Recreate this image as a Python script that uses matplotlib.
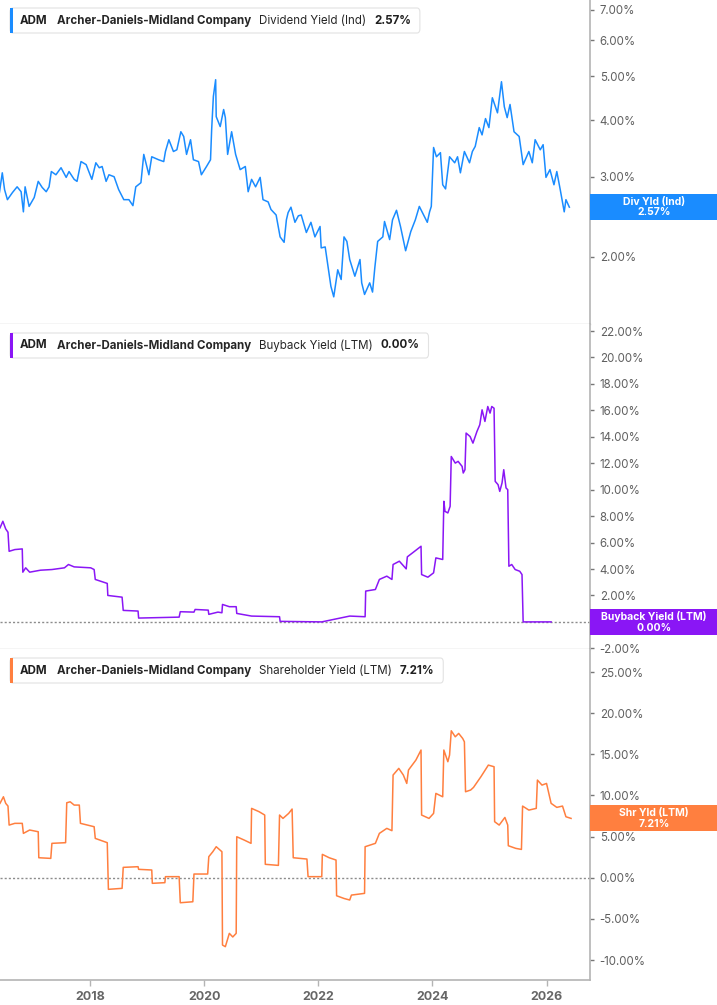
import matplotlib
matplotlib.use("Agg")
import matplotlib.pyplot as plt
from matplotlib.patches import Rectangle, FancyBboxPatch
from matplotlib.ticker import FixedLocator, FuncFormatter, NullLocator

plt.rcParams['font.family'] = ['Inter', 'DejaVu Sans']

# ---- data (decimal years, percent) ----
div_t = [2016.41, 2016.46, 2016.50, 2016.55, 2016.64, 2016.72, 2016.79, 2016.83, 2016.86, 2016.93,
         2017.02, 2017.09, 2017.16, 2017.23, 2017.28, 2017.32, 2017.40, 2017.49, 2017.58, 2017.63,
         2017.72, 2017.77, 2017.84, 2017.93, 2018.03, 2018.10, 2018.16, 2018.21, 2018.28, 2018.33,
         2018.42, 2018.50, 2018.59, 2018.68, 2018.75, 2018.80, 2018.89, 2018.94, 2019.03, 2019.08,
         2019.20, 2019.29, 2019.32, 2019.38, 2019.46, 2019.52, 2019.59, 2019.64, 2019.69, 2019.76,
         2019.81, 2019.90, 2019.95, 2020.04, 2020.11, 2020.13, 2020.16, 2020.20, 2020.21, 2020.28,
         2020.34, 2020.37, 2020.41, 2020.48, 2020.55, 2020.63, 2020.72, 2020.77, 2020.83, 2020.90,
         2020.98, 2021.03, 2021.12, 2021.17, 2021.26, 2021.33, 2021.40, 2021.44, 2021.47, 2021.52,
         2021.59, 2021.65, 2021.70, 2021.79, 2021.87, 2021.94, 2022.03, 2022.05, 2022.12, 2022.17,
         2022.22, 2022.27, 2022.34, 2022.40, 2022.45, 2022.50, 2022.55, 2022.64, 2022.73, 2022.76,
         2022.81, 2022.90, 2022.95, 2022.99, 2023.04, 2023.13, 2023.16, 2023.25, 2023.30, 2023.37,
         2023.44, 2023.53, 2023.62, 2023.70, 2023.77, 2023.86, 2023.91, 2023.95, 2023.98, 2024.02,
         2024.07, 2024.14, 2024.18, 2024.23, 2024.30, 2024.39, 2024.44, 2024.49, 2024.56, 2024.65,
         2024.70, 2024.75, 2024.82, 2024.87, 2024.93, 2024.99, 2025.05, 2025.14, 2025.21, 2025.26,
         2025.31, 2025.36, 2025.43, 2025.52, 2025.59, 2025.69, 2025.75, 2025.80, 2025.89, 2025.94,
         2025.99, 2026.06, 2026.13, 2026.18, 2026.24, 2026.31, 2026.34, 2026.40]
div_v = [2.77, 3.06, 2.81, 2.67, 2.77, 2.85, 2.78, 2.51, 2.85, 2.58,
         2.70, 2.93, 2.84, 2.78, 2.85, 3.08, 3.03, 3.14, 2.99, 3.08,
         2.96, 2.93, 3.24, 3.19, 2.96, 3.22, 3.14, 3.16, 2.93, 3.03,
         3.00, 2.81, 2.67, 2.67, 2.59, 2.85, 2.91, 3.36, 3.03, 3.32,
         3.27, 3.24, 3.41, 3.62, 3.41, 3.44, 3.77, 3.68, 3.36, 3.62,
         3.27, 3.24, 3.03, 3.16, 3.27, 3.81, 4.51, 4.91, 4.07, 3.87,
         4.22, 4.05, 3.36, 3.77, 3.36, 3.11, 3.16, 2.78, 2.96, 2.85,
         2.99, 2.67, 2.64, 2.54, 2.47, 2.21, 2.15, 2.41, 2.50, 2.57,
         2.38, 2.46, 2.47, 2.26, 2.38, 2.21, 2.33, 2.09, 2.10, 1.90,
         1.72, 1.63, 1.87, 1.78, 2.21, 2.16, 1.97, 1.81, 1.97, 1.75,
         1.65, 1.75, 1.67, 1.89, 2.16, 2.21, 2.39, 2.18, 2.41, 2.53,
         2.33, 2.06, 2.27, 2.41, 2.58, 2.45, 2.38, 2.51, 2.58, 3.48,
         3.32, 3.39, 2.88, 2.82, 3.32, 3.22, 3.32, 3.06, 3.41, 3.22,
         3.41, 3.50, 3.85, 3.71, 4.03, 3.85, 4.48, 4.15, 4.86, 4.28,
         4.05, 4.33, 3.77, 3.68, 3.19, 3.41, 3.22, 3.62, 3.44, 3.53,
         2.99, 3.11, 2.88, 3.08, 2.81, 2.51, 2.67, 2.57]

buy_t = [2016.42, 2016.47, 2016.52, 2016.56, 2016.58, 2016.68, 2016.81, 2016.82, 2016.87, 2016.94,
         2017.13, 2017.33, 2017.55, 2017.62, 2017.72, 2018.01, 2018.07, 2018.09, 2018.30, 2018.31,
         2018.56, 2018.58, 2018.84, 2018.85, 2019.56, 2019.58, 2019.82, 2019.84, 2020.07, 2020.08,
         2020.24, 2020.31, 2020.32, 2020.44, 2020.56, 2020.57, 2020.83, 2021.32, 2021.33, 2022.06,
         2022.55, 2022.82, 2022.83, 2023.00, 2023.07, 2023.20, 2023.29, 2023.31, 2023.42, 2023.54,
         2023.56, 2023.66, 2023.80, 2023.81, 2023.92, 2024.02, 2024.06, 2024.18, 2024.20, 2024.22,
         2024.27, 2024.31, 2024.33, 2024.40, 2024.45, 2024.52, 2024.54, 2024.57, 2024.59, 2024.66,
         2024.71, 2024.78, 2024.83, 2024.87, 2024.92, 2024.97, 2025.01, 2025.04, 2025.08, 2025.10,
         2025.15, 2025.18, 2025.22, 2025.25, 2025.29, 2025.32, 2025.34, 2025.39, 2025.45, 2025.53,
         2025.57, 2025.59, 2026.08]
buy_v = [7.11, 7.61, 7.03, 6.78, 5.34, 5.47, 5.52, 3.76, 4.09, 3.76,
         3.91, 3.96, 4.09, 4.34, 4.16, 4.09, 3.96, 3.21, 2.91, 2.00,
         1.87, 0.87, 0.82, 0.29, 0.36, 0.77, 0.74, 0.94, 0.89, 0.57,
         0.74, 0.69, 1.32, 1.15, 1.15, 0.64, 0.44, 0.39, 0.04, 0.00,
         0.44, 0.39, 2.33, 2.45, 3.21, 3.46, 3.21, 4.34, 4.59, 4.01,
         4.92, 5.25, 5.72, 3.58, 3.38, 3.71, 4.84, 4.72, 9.12, 8.36,
         8.24, 8.74, 12.51, 12.01, 12.14, 11.76, 11.26, 11.51, 14.28, 14.02,
         13.52, 14.40, 14.91, 16.04, 15.16, 16.29, 15.79, 16.29, 16.16, 10.63,
         10.38, 9.87, 10.51, 11.51, 10.13, 10.00, 4.21, 4.34, 3.96, 3.83,
         3.58, 0.00, 0.00]

shr_t = [2016.42, 2016.48, 2016.52, 2016.56, 2016.58, 2016.68, 2016.81, 2016.83, 2016.94, 2017.09,
         2017.10, 2017.31, 2017.33, 2017.57, 2017.59, 2017.65, 2017.72, 2017.81, 2017.83, 2018.07,
         2018.09, 2018.30, 2018.32, 2018.56, 2018.58, 2018.84, 2018.85, 2019.08, 2019.09, 2019.31,
         2019.32, 2019.56, 2019.58, 2019.80, 2019.82, 2020.06, 2020.08, 2020.15, 2020.21, 2020.31,
         2020.32, 2020.37, 2020.44, 2020.50, 2020.56, 2020.57, 2020.70, 2020.82, 2020.83, 2020.96,
         2021.06, 2021.07, 2021.30, 2021.32, 2021.38, 2021.48, 2021.54, 2021.56, 2021.80, 2021.82,
         2022.06, 2022.07, 2022.19, 2022.31, 2022.32, 2022.45, 2022.55, 2022.58, 2022.81, 2022.82,
         2023.00, 2023.07, 2023.20, 2023.29, 2023.31, 2023.41, 2023.49, 2023.55, 2023.58, 2023.71,
         2023.80, 2023.81, 2023.94, 2024.02, 2024.06, 2024.18, 2024.20, 2024.27, 2024.30, 2024.33,
         2024.40, 2024.46, 2024.53, 2024.56, 2024.58, 2024.67, 2024.72, 2024.85, 2024.98, 2025.08,
         2025.09, 2025.17, 2025.27, 2025.32, 2025.33, 2025.46, 2025.56, 2025.58, 2025.69, 2025.82,
         2025.84, 2025.92, 2026.00, 2026.08, 2026.18, 2026.28, 2026.34, 2026.43]
shr_v = [9.04, 9.84, 9.04, 8.71, 6.40, 6.61, 6.61, 5.39, 5.80, 5.59,
         2.43, 2.35, 4.18, 4.26, 9.11, 9.23, 8.83, 8.83, 6.61, 6.20,
         4.78, 4.26, -1.41, -1.29, 1.26, 1.34, 1.02, 0.94, -0.68, -0.60,
         0.13, 0.13, -3.04, -2.92, 0.45, 0.45, 2.56, 3.16, 3.77, 3.16,
         -8.18, -8.38, -6.76, -7.20, -6.76, 4.98, 4.58, 4.18, 8.43, 8.03,
         7.62, 1.63, 1.50, 7.62, 7.21, 7.82, 8.35, 2.43, 2.27, 0.13,
         0.13, 2.84, 2.43, 2.15, -2.19, -2.52, -2.71, -2.11, -1.90, 3.77,
         4.18, 5.39, 6.00, 5.72, 12.48, 13.29, 12.48, 11.46, 13.09, 14.30,
         15.52, 7.62, 7.21, 7.82, 10.25, 9.84, 15.52, 14.10, 14.91, 17.86,
         17.13, 17.54, 16.93, 16.52, 10.45, 10.66, 10.98, 12.28, 13.69, 13.49,
         6.81, 6.40, 7.33, 6.40, 3.89, 3.57, 3.44, 8.71, 8.22, 8.43,
         11.87, 11.26, 11.46, 9.04, 8.55, 8.71, 7.41, 7.21]

div_ticks = [2, 3, 4, 5, 6, 7]
buy_ticks = [-2, 0, 2, 4, 6, 8, 10, 12, 14, 16, 18, 20, 22]
shr_ticks = [-10, -5, 0, 5, 10, 15, 20, 25]
year_ticks = [2018, 2020, 2022, 2024, 2026]

BLUE = '#1a8cff'
PURPLE = '#8a16f5'
ORANGE = '#ff7f3f'

W, H = 717, 1005
fig = plt.figure(figsize=(W / 100, H / 100), dpi=100)
fig.patch.set_facecolor('white')

AX_RIGHT = 590


def make_axes(top, bottom):
    return fig.add_axes([0, 1 - bottom / H, AX_RIGHT / W, (bottom - top) / H])


ax1 = make_axes(0, 324)
ax2 = make_axes(324, 649)
ax3 = make_axes(649, 980)

pct = FuncFormatter(lambda v, p: f"{v:.2f}%")

for ax in (ax1, ax2, ax3):
    ax.set_xlim(2016.42, 2016.42 + AX_RIGHT / 57.05)
    ax.spines['top'].set_visible(False)
    ax.spines['left'].set_visible(False)
    ax.spines['right'].set_color('#b4b4b4')
    ax.spines['right'].set_linewidth(1.2)
    ax.spines['bottom'].set_color('#cfcfcf')
    ax.spines['bottom'].set_linewidth(1.0)
    ax.yaxis.tick_right()
    ax.tick_params(axis='y', length=3, width=1, color='#777777', labelsize=8.3,
                   labelcolor='#606060', pad=4)
    ax.xaxis.set_major_locator(FixedLocator(year_ticks))
    ax.xaxis.set_minor_locator(NullLocator())
    ax.yaxis.set_minor_locator(NullLocator())

for ax in (ax1, ax2):
    ax.tick_params(axis='x', length=0, labelbottom=False)

ax3.spines['bottom'].set_color('#b4b4b4')
ax3.spines['bottom'].set_linewidth(1.2)
ax3.tick_params(axis='x', length=4, width=1, color='#b4b4b4', labelsize=9,
                labelcolor='#666666', pad=4)
ax3.set_xticklabels([str(y) for y in year_ticks], fontweight='bold')

# panel 1: dividend yield (log scale)
ax1.plot(div_t, div_v, color=BLUE, lw=1.1)
ax1.set_yscale('log')
ax1.set_ylim(1.42, 7.36)
ax1.yaxis.set_major_locator(FixedLocator(div_ticks))
ax1.yaxis.set_minor_locator(NullLocator())
ax1.yaxis.set_major_formatter(pct)
ax1.yaxis.set_minor_formatter(FuncFormatter(lambda v, p: ''))

# panel 2: buyback yield
ax2.plot(buy_t, buy_v, color=PURPLE, lw=1.1)
ax2.axhline(0, color='#8c8c8c', lw=1.0, ls=(0, (1.5, 1.5)), zorder=0)
ax2.set_ylim(-2.05, 22.53)
ax2.yaxis.set_major_locator(FixedLocator(buy_ticks))
ax2.yaxis.set_major_formatter(pct)

# panel 3: shareholder yield
ax3.plot(shr_t, shr_v, color=ORANGE, lw=1.1)
ax3.axhline(0, color='#8c8c8c', lw=1.0, ls=(0, (1.5, 1.5)), zorder=0)
ax3.set_ylim(-12.43, 27.8)
ax3.yaxis.set_major_locator(FixedLocator(shr_ticks))
ax3.yaxis.set_major_formatter(pct)

renderer = fig.canvas.get_renderer()


def legend_box(top_px, color, metric, value):
    x = 20
    y = 1 - (top_px + 12.5) / H
    pieces = [("ADM", 'bold', '#1f1f1f'),
              ("Archer-Daniels-Midland Company", 'bold', '#262626'),
              (metric, 'normal', '#262626'),
              (value, 'bold', '#1f1f1f')]
    gaps = [9, 8, 8, 0]
    for (txt, wt, col), gap in zip(pieces, gaps):
        t = fig.text(x / W, y, txt, fontsize=8.3, fontweight=wt, color=col,
                     va='center', ha='left', zorder=6)
        bb = t.get_window_extent(renderer)
        x += bb.width + gap
    right = x + 9
    box = FancyBboxPatch((10 / W, 1 - (top_px + 25) / H), (right - 10) / W, 25 / H,
                         boxstyle="round,pad=0,rounding_size=0.004",
                         transform=fig.transFigure, facecolor='white',
                         edgecolor='#e2e2e2', lw=0.8, zorder=5)
    fig.patches.append(box)
    bar = Rectangle((10 / W, 1 - (top_px + 25) / H), 3 / W, 25 / H,
                    transform=fig.transFigure, facecolor=color, edgecolor='none', zorder=5.5)
    fig.patches.append(bar)


legend_box(8, BLUE, "Dividend Yield (Ind)", "2.57%")
legend_box(333, PURPLE, "Buyback Yield (LTM)", "0.00%")
legend_box(658, ORANGE, "Shareholder Yield (LTM)", "7.21%")


def value_tag(ax, val, color, text):
    ydisp = ax.transData.transform((ax.get_xlim()[1], val))[1]
    yfig = ydisp / fig.bbox.height
    h = 26 / H
    rect = Rectangle((AX_RIGHT / W, yfig - h / 2), 1 - AX_RIGHT / W, h,
                     transform=fig.transFigure, facecolor=color, edgecolor='none', zorder=7)
    fig.patches.append(rect)
    fig.text((AX_RIGHT + 64) / W, yfig, text, color='white', fontsize=7.5,
             fontweight='bold', ha='center', va='center', linespacing=1.05, zorder=8)


value_tag(ax1, 2.57, BLUE, "Div Yld (Ind)\n2.57%")
value_tag(ax2, 0.0, PURPLE, "Buyback Yield (LTM)\n0.00%")
value_tag(ax3, 7.21, ORANGE, "Shr Yld (LTM)\n7.21%")

fig.savefig('out.png', dpi=100, facecolor='white')
